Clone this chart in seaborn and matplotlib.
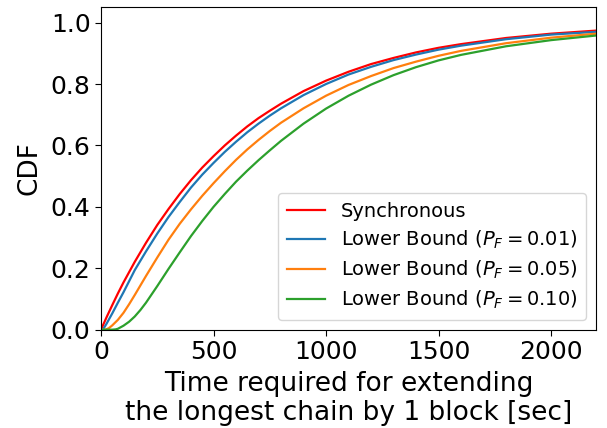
import matplotlib
matplotlib.use("Agg")
import matplotlib.pyplot as plt
import pandas as pd
import seaborn as sns

# Time (sec) at which each CDF curve was read
t_sync = [0, 25, 50, 75, 100, 150, 200, 250, 300, 350, 400, 450, 500, 550, 600, 650,
          700, 750, 800, 900, 1000, 1100, 1200, 1300, 1400, 1500, 1600, 1800, 2000, 2200]
cdf_sync = [0.0, 0.041, 0.080, 0.118, 0.154, 0.221, 0.283, 0.341, 0.393, 0.442, 0.487,
            0.528, 0.565, 0.600, 0.632, 0.662, 0.689, 0.713, 0.736, 0.777, 0.811,
            0.840, 0.865, 0.885, 0.903, 0.918, 0.930, 0.950, 0.964, 0.974]

t_pf01 = [0, 10, 25, 50, 75, 100, 150, 200, 250, 300, 350, 400, 450, 500, 550, 600, 650,
          700, 750, 800, 900, 1000, 1100, 1200, 1300, 1400, 1500, 1600, 1800, 2000, 2200]
cdf_pf01 = [0.0, 0.002, 0.020, 0.053, 0.088, 0.122, 0.194, 0.255, 0.313, 0.367, 0.416,
            0.463, 0.505, 0.543, 0.579, 0.612, 0.643, 0.671, 0.697, 0.721, 0.764, 0.800,
            0.831, 0.856, 0.878, 0.896, 0.912, 0.925, 0.946, 0.961, 0.970]

t_pf05 = [0, 20, 35, 50, 75, 100, 125, 150, 200, 250, 300, 350, 400, 450, 500, 550, 600,
          650, 700, 750, 800, 900, 1000, 1100, 1200, 1300, 1400, 1500, 1600, 1800, 2000, 2200]
cdf_pf05 = [0.0, 0.0, 0.005, 0.014, 0.032, 0.055, 0.083, 0.113, 0.175, 0.235, 0.293,
            0.345, 0.392, 0.436, 0.477, 0.516, 0.553, 0.587, 0.618, 0.647, 0.674, 0.721,
            0.762, 0.797, 0.826, 0.852, 0.873, 0.892, 0.908, 0.933, 0.951, 0.964]

t_pf10 = [0, 50, 65, 75, 100, 125, 150, 175, 200, 250, 300, 350, 400, 450, 500, 550, 600,
          650, 700, 750, 800, 900, 1000, 1100, 1200, 1300, 1400, 1500, 1600, 1800, 2000, 2200]
cdf_pf10 = [0.0, 0.0, 0.001, 0.003, 0.013, 0.026, 0.043, 0.064, 0.088, 0.142, 0.198,
            0.252, 0.305, 0.354, 0.400, 0.442, 0.482, 0.518, 0.552, 0.584, 0.615, 0.671,
            0.720, 0.762, 0.798, 0.829, 0.855, 0.877, 0.895, 0.923, 0.943, 0.958]

labels = ["Synchronous",
          r"Lower Bound ($P_F=0.01$)",
          r"Lower Bound ($P_F=0.05$)",
          r"Lower Bound ($P_F=0.10$)"]
colors = ["red", "tab:blue", "tab:orange", "tab:green"]

frames = []
for lab, tt, cc in zip(labels, [t_sync, t_pf01, t_pf05, t_pf10],
                       [cdf_sync, cdf_pf01, cdf_pf05, cdf_pf10]):
    frames.append(pd.DataFrame({"t": tt, "cdf": cc, "series": lab}))
df = pd.concat(frames, ignore_index=True)

plt.rcParams["font.family"] = ["DejaVu Sans"]
plt.rcParams["mathtext.fontset"] = "dejavusans"

fig = plt.figure(figsize=(6.07, 4.28), dpi=100)
ax = fig.add_axes([0.1664, 0.2297, 0.8156, 0.7533])

sns.lineplot(data=df, x="t", y="cdf", hue="series", hue_order=labels,
             palette=dict(zip(labels, colors)), linewidth=1.6, ax=ax,
             sort=True, estimator=None)

ax.set_xlim(0, 2200)
ax.set_ylim(0, 1.05)
ax.set_xticks([0, 500, 1000, 1500, 2000])
ax.set_yticks([0.0, 0.2, 0.4, 0.6, 0.8, 1.0])
ax.tick_params(labelsize=18, direction="out", length=4, width=0.8, colors="black")

ax.set_xlabel("Time required for extending\nthe longest chain by 1 block [sec]",
              fontsize=19, labelpad=5, linespacing=1.15)
ax.set_ylabel("CDF", fontsize=19, labelpad=6)

leg = ax.legend(loc="lower right", fontsize=14, frameon=True, fancybox=True,
                handlelength=2.0, borderpad=0.45, labelspacing=0.4,
                borderaxespad=0.5)

fig.savefig("out.png", dpi=100)
